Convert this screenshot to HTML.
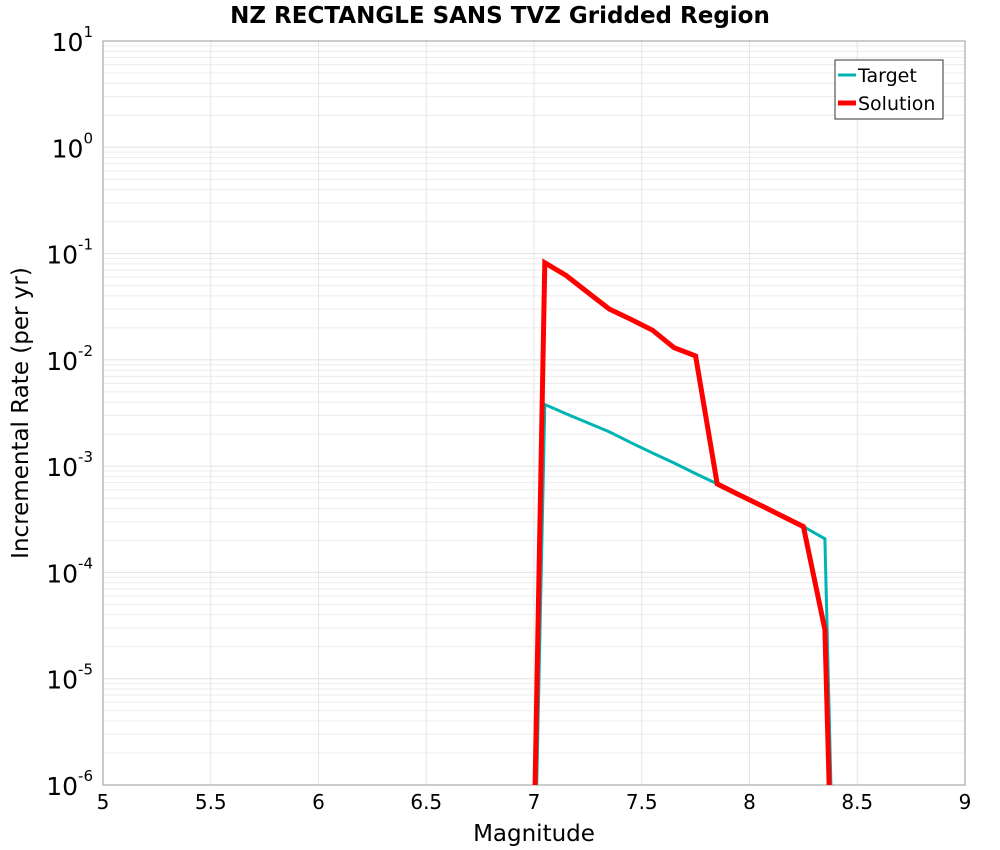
<!DOCTYPE html>
<html><head><meta charset="utf-8"><style>
html,body{margin:0;padding:0;background:#fff;overflow:hidden;width:1000px;height:850px}
svg{display:block}
</style></head><body>
<svg id="chart" width="1000" height="850" xmlns="http://www.w3.org/2000/svg" font-family="DejaVu Sans, Liberation Sans, sans-serif">
<defs><clipPath id="clip"><rect x="103" y="41" width="862" height="744"/></clipPath></defs>
<text x="500" y="23" text-anchor="middle" font-size="23" font-weight="bold">NZ RECTANGLE SANS TVZ Gridded Region</text>
<g id="grid"></g>
<rect x="103" y="41" width="862" height="744" fill="none" stroke="#999" stroke-width="1"/>
<g id="ticks"></g>
<g id="series" clip-path="url(#clip)"></g>
<text x="534" y="841" text-anchor="middle" font-size="23">Magnitude</text>
<text transform="translate(28,413) rotate(-90)" text-anchor="middle" font-size="23">Incremental Rate (per yr)</text>
<g>
<rect x="835" y="60" width="108" height="59" fill="#fff" stroke="#333"/>
<line x1="838" y1="75" x2="856" y2="75" stroke="#00b4b4" stroke-width="3"/>
<text x="858" y="82" font-size="19">Target</text>
<line x1="838" y1="103" x2="856" y2="103" stroke="#ff0000" stroke-width="5"/>
<text x="858" y="110" font-size="19">Solution</text>
</g>
</svg>
<script>
const mags = [6.95,7.05,7.15,7.25,7.35,7.45,7.55,7.65,7.75,7.85,7.95,8.05,8.15,8.25,8.35,8.45];
const targetVals = [1e-12,3.8e-3,3.1e-3,2.55e-3,2.1e-3,1.66e-3,1.33e-3,1.07e-3,8.5e-4,6.8e-4,5.4e-4,4.3e-4,3.4e-4,2.7e-4,2.07e-4,1e-12];
const solutionVals = [1e-12,0.082,0.062,0.043,0.030,0.024,0.019,0.013,0.0109,6.8e-4,5.4e-4,4.3e-4,3.4e-4,2.7e-4,2.9e-5,1e-12];
const xTicks = [5,5.5,6,6.5,7,7.5,8,8.5,9];
const yExps = [1,0,-1,-2,-3,-4,-5,-6];
const NS="http://www.w3.org/2000/svg";
const X0=103,X1=965,Y0=41,Y1=785;
const xs=v=>X0+(v-5)/(9-5)*(X1-X0);
const ys=v=>Y0+(1-Math.log10(v))/7*(Y1-Y0);
function mk(t,a,p){const e=document.createElementNS(NS,t);for(const k in a)e.setAttribute(k,a[k]);p.appendChild(e);return e;}
const grid=document.getElementById('grid'),ticks=document.getElementById('ticks'),ser=document.getElementById('series');
for(let e=-6;e<1;e++)for(let m=1;m<10;m++){const y=ys(m*Math.pow(10,e));
 const l=mk('line',{x1:X0,x2:X1,y1:y,y2:y,stroke:m==1?'#e2e2e2':'#ececec','stroke-width':1},grid);
 
 }
xTicks.forEach(v=>{const x=xs(v);
 const l=mk('line',{x1:x,x2:x,y1:Y0,y2:Y1,stroke:'#e6e6e6','stroke-width':1},grid);
 
 
 const t=mk('text',{x:x,y:809,'text-anchor':'middle','font-size':20},ticks);t.textContent=String(v);
 
 });
yExps.forEach(e=>{const y=ys(Math.pow(10,e));
 const t=mk('text',{x:93,y:y+10,'text-anchor':'end','font-size':25},ticks);
 
 
 const a=mk('tspan',{},t);a.textContent='10';
 const b=mk('tspan',{dy:-14,'font-size':15},t);b.textContent=String(e);});
function line(vals,color,w,name){const d=mags.map((m,i)=>(i?'L':'M')+xs(m).toFixed(1)+','+ys(vals[i]).toFixed(1)).join('');
 const p=mk('path',{d:d,fill:'none',stroke:color,'stroke-width':w,'stroke-linejoin':'miter'},ser);
 
 }
line(targetVals,'#00b4b4',3,'target-line');
line(solutionVals,'#ff0000',5,'solution-line');
</script>
</body></html>
